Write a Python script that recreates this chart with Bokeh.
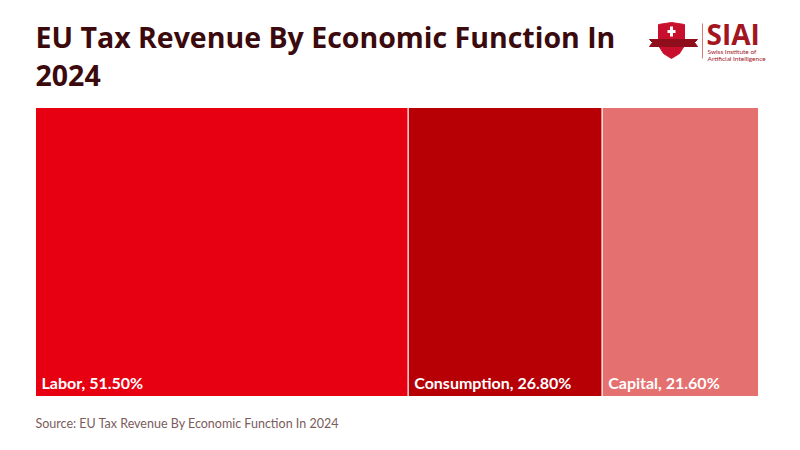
from bokeh.plotting import figure
from bokeh.models import Range1d, Label
from bokeh.embed import file_html
from bokeh.resources import INLINE
from bokeh.core.properties import value

# ---- data ----
categories = ["Labor", "Consumption", "Capital"]
shares = [51.5, 26.8, 21.6]
colors = ["#E60012", "#B60005", "#E47070"]
title_lines = ["EU Tax Revenue By Economic Function In", "2024"]
source_text = "Source: EU Tax Revenue By Economic Function In 2024"

# ---- layout ----
W, H = 784, 440
tree_left, tree_right = 35, 758
tree_top, tree_bottom = 107, 396
total = sum(shares)
ppu = (tree_right - tree_left) / total
ppy = float(tree_bottom - tree_top)
K = 0.37  # baseline correction factor (em)

def fx(page_x):
    return (page_x - tree_left) / ppu

def fy(page_y):
    return (tree_bottom - page_y) / ppy

def fyb(page_y, fs):
    return fy(page_y - K * fs)

p = figure(width=W, height=H, output_backend="svg", toolbar_location=None,
           x_range=Range1d(-tree_left / ppu, (W - tree_left) / ppu),
           y_range=Range1d(-(H - tree_bottom) / ppy, tree_bottom / ppy),
           min_border=0)
p.axis.visible = False
p.grid.visible = False
p.outline_line_color = None
p.background_fill_color = "white"
p.border_fill_color = "white"

lefts, rights = [], []
cum = 0.0
for v in shares:
    lefts.append(cum)
    cum += v
    rights.append(cum)

p.quad(left=lefts, right=rights, bottom=[0] * 3, top=[1] * 3,
       fill_color=colors, line_color="white", line_width=1)

LFS = 16
labels = [f"{c}, {v:.2f}%" for c, v in zip(categories, shares)]
p.text(x=[l + 6 / ppu for l in lefts], y=[fyb(388, LFS)] * 3, text=labels,
       text_color="white", text_font=value("Lato"), text_font_style="bold",
       text_font_size=f"{LFS}px", text_baseline="alphabetic", text_align="left")

TFONT = "Open Sans"
FONT = "Lato"
TFS = 28.5
for i, line in enumerate(title_lines):
    p.add_layout(Label(x=fx(35), y=fyb(47 + 39 * i, TFS), text=line,
                       text_font=TFONT, text_font_style="bold",
                       text_font_size=f"{TFS}px", text_color="#3B0A0D",
                       text_baseline="alphabetic"))

SFS = 12.5
p.add_layout(Label(x=fx(35), y=fyb(428, SFS), text=source_text, text_font=FONT,
                   text_font_size=f"{SFS}px", text_color="#7A5C5C",
                   text_baseline="alphabetic"))

# ---- logo ----
shield = [(658, 24), (671, 22), (684, 24), (684, 45), (679, 53), (671, 58), (663, 53), (658, 45)]
p.patch([fx(a) for a, b in shield], [fy(b) for a, b in shield],
        fill_color="#C8102E", line_color="#C8102E")
ribbon = [(649, 39), (697, 39), (694, 42), (697, 46), (649, 46), (652, 42)]
p.patch([fx(a) for a, b in ribbon], [fy(b) for a, b in ribbon],
        fill_color="#8E0E1C", line_color="#8E0E1C")
p.quad(left=[fx(667), fx(669.5)], right=[fx(675), fx(672.5)],
       bottom=[fy(32.5), fy(36)], top=[fy(29.5), fy(26)],
       fill_color="white", line_color=None)
p.line([fx(702), fx(702)], [fy(23), fy(58)], line_color="#D77A7A", line_width=1)
p.add_layout(Label(x=fx(706), y=fyb(44, 28), text="SIAI", text_font=TFONT,
                   text_font_style="bold", text_font_size="28px",
                   text_color="#A3161F", text_baseline="alphabetic"))
p.add_layout(Label(x=fx(707), y=fyb(53, 6.5), text="Swiss Institute of", text_font=FONT,
                   text_font_size="6.5px", text_color="#A3161F",
                   text_baseline="alphabetic"))
p.add_layout(Label(x=fx(707), y=fyb(60, 6.5), text="Artificial Intelligence", text_font=FONT,
                   text_font_size="6.5px", text_color="#A3161F",
                   text_baseline="alphabetic"))

open("out.html", "w").write(file_html(p, INLINE))
